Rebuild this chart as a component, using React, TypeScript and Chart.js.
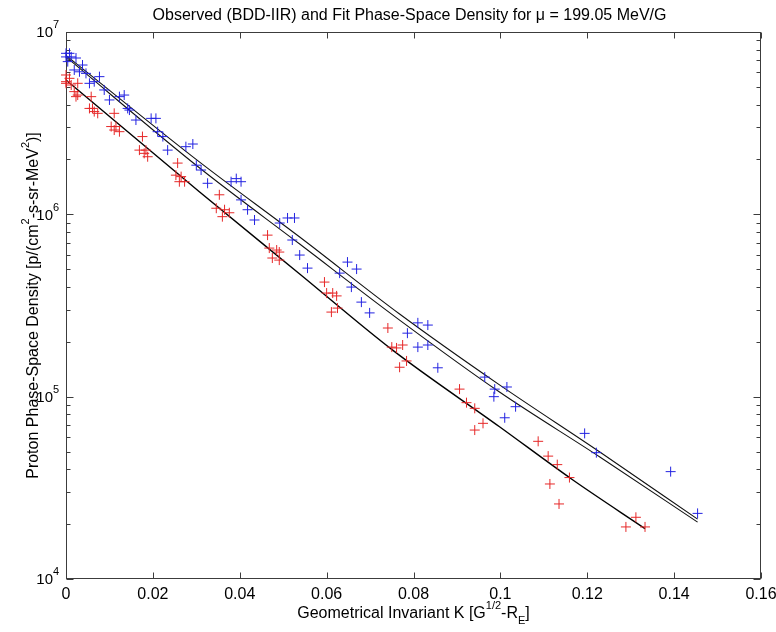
import React, { useEffect, useRef } from "react";
import { Chart, registerables } from "chart.js";

Chart.register(...registerables);

// ---------- data ----------
const xTickValues = [0, 0.02, 0.04, 0.06, 0.08, 0.1, 0.12, 0.14, 0.16];
const xTickLabels = ["0", "0.02", "0.04", "0.06", "0.08", "0.1", "0.12", "0.14", "0.16"];
const yDecadeExponents = [4, 5, 6, 7];

const blueK = [0, 0.0008, 0, 0.0012, 0.0023, 0.0004, 0.0019, 0.0038, 0.0031, 0.0046, 0.0077, 0.0065, 0.0054, 0.0088, 0.01, 0.0123, 0.0134, 0.0142, 0.0146, 0.0161, 0.0196, 0.0207, 0.0211, 0.0223, 0.0234, 0.0276, 0.0292, 0.03, 0.0311, 0.0326, 0.038, 0.0392, 0.0403, 0.0403, 0.0418, 0.0434, 0.0492, 0.051, 0.0526, 0.0521, 0.0538, 0.0556, 0.063, 0.0648, 0.0669, 0.0657, 0.068, 0.0699, 0.0786, 0.081, 0.0833, 0.081, 0.0833, 0.0856, 0.0964, 0.0987, 0.1015, 0.0985, 0.1035, 0.101, 0.1194, 0.1221, 0.1392, 0.1454];
const bluePSD = [7.64e6, 7.64e6, 7.3e6, 7.3e6, 7.2e6, 6.88e6, 6.19e6, 6.59e6, 6.05e6, 5.93e6, 5.69e6, 5.34e6, 5.23e6, 4.81e6, 4.24e6, 4.42e6, 4.51e6, 3.81e6, 3.73e6, 3.29e6, 3.36e6, 3.36e6, 2.84e6, 2.67e6, 2.25e6, 2.35e6, 2.43e6, 1.86e6, 1.75e6, 1.48e6, 1.51e6, 1.57e6, 1.51e6, 1.2e6, 1.06e6, 9.31e5, 8.96e5, 9.55e5, 9.55e5, 7.23e5, 5.98e5, 5.07e5, 4.76e5, 5.47e5, 5.01e5, 3.99e5, 3.3e5, 2.88e5, 2.23e5, 2.54e5, 2.47e5, 1.87e5, 1.92e5, 1.44e5, 1.28e5, 1.1e5, 1.13e5, 1.0e5, 8.81e4, 7.66e4, 6.29e4, 4.93e4, 3.88e4, 2.29e4];

const redK = [0, 0.0008, 0, 0, 0.0012, 0.0027, 0.0019, 0.0027, 0.0023, 0.0058, 0.0054, 0.0061, 0.0065, 0.0073, 0.0111, 0.0104, 0.0115, 0.0111, 0.0123, 0.0176, 0.0169, 0.0184, 0.018, 0.0188, 0.0257, 0.0253, 0.0265, 0.0261, 0.0273, 0.0353, 0.0346, 0.0365, 0.0376, 0.036, 0.0464, 0.0468, 0.0485, 0.0491, 0.0475, 0.0491, 0.0595, 0.06, 0.0614, 0.0623, 0.0625, 0.0611, 0.0741, 0.075, 0.0775, 0.0761, 0.0784, 0.0768, 0.0906, 0.0922, 0.0941, 0.096, 0.0941, 0.1087, 0.111, 0.1131, 0.1159, 0.1114, 0.1135, 0.1312, 0.1289, 0.1333];
const redPSD = [5.81e6, 5.57e6, 5.34e6, 5.23e6, 5.12e6, 5.23e6, 4.71e6, 4.51e6, 4.42e6, 4.42e6, 3.81e6, 3.81e6, 3.66e6, 3.58e6, 3.58e6, 3.03e6, 3.03e6, 2.9e6, 2.84e6, 2.67e6, 2.25e6, 2.25e6, 2.16e6, 2.07e6, 1.91e6, 1.64e6, 1.61e6, 1.51e6, 1.51e6, 1.28e6, 1.08e6, 1.06e6, 1.02e6, 9.71e5, 7.69e5, 6.53e5, 6.37e5, 6.21e5, 5.76e5, 5.61e5, 4.25e5, 3.7e5, 3.7e5, 3.57e5, 3.06e5, 2.91e5, 2.38e5, 1.87e5, 1.92e5, 1.85e5, 1.57e5, 1.45e5, 1.1e5, 9.27e4, 8.63e4, 7.14e4, 6.56e4, 5.69e4, 4.72e4, 4.24e4, 3.6e4, 3.32e4, 2.58e4, 2.18e4, 1.93e4, 1.93e4];

const blueFitK = [0, 0.0307, 0.0538, 0.0768, 0.0998, 0.1229, 0.1454];
const blueFitUpper = [7.45e6, 1.94e6, 7.51e5, 2.84e5, 1.16e5, 4.97e4, 2.13e4];
const blueFitLower = [7.3e6, 1.8e6, 6.87e5, 2.63e5, 1.06e5, 4.67e4, 2.05e4];
const redFitK = [0, 0.0307, 0.0538, 0.0752, 0.0998, 0.1167, 0.1333];
const redFit = [5.46e6, 1.33e6, 4.71e5, 1.8e5, 6.84e4, 3.49e4, 1.89e4];

const titleText = "Observed (BDD-IIR) and Fit Phase-Space Density for \u03bc = 199.05 MeV/G";

// ---------- helpers ----------
const FONT = '"Liberation Sans", Arial, Helvetica, sans-serif';
type Seg = [string, "n" | "sup" | "sub"];

function drawRich(ctx: CanvasRenderingContext2D, segs: Seg[], x: number, y: number, align: "left" | "center" | "right", size: number, supSize: number) {
  const fontFor = (k: string) => `${k === "n" ? size : supSize}px ${FONT}`;
  let total = 0;
  const widths = segs.map(([t, k]) => {
    ctx.font = fontFor(k);
    const w = ctx.measureText(t).width;
    total += w;
    return w;
  });
  let cx = align === "center" ? x - total / 2 : align === "right" ? x - total : x;
  ctx.textAlign = "left";
  ctx.textBaseline = "alphabetic";
  segs.forEach(([t, k], i) => {
    ctx.font = fontFor(k);
    const dy = k === "sup" ? -0.58 * size : k === "sub" ? 0.4 * size : 0;
    ctx.fillText(t, cx, y + dy);
    cx += widths[i];
  });
}

const matlabAxes = {
  id: "matlabAxes",
  beforeDatasetsDraw(chart: any) {
    const { ctx, chartArea: a, scales } = chart;
    const xs = scales.x;
    const ys = scales.y;
    ctx.save();
    ctx.strokeStyle = "#3c3c3c";
    ctx.lineWidth = 1;
    const L = Math.round(a.left) + 0.5;
    const R = Math.round(a.right) - 0.5;
    const T = Math.round(a.top) + 0.5;
    const B = Math.round(a.bottom) - 0.5;
    ctx.strokeRect(L, T, R - L, B - T);
    ctx.beginPath();
    xTickValues.forEach((v) => {
      const px = Math.round(xs.getPixelForValue(v)) + 0.5;
      ctx.moveTo(px, B);
      ctx.lineTo(px, B - 6);
      ctx.moveTo(px, T);
      ctx.lineTo(px, T + 6);
    });
    yDecadeExponents.forEach((e, i) => {
      const py = Math.round(ys.getPixelForValue(Math.pow(10, e))) + 0.5;
      ctx.moveTo(L, py);
      ctx.lineTo(L + 7, py);
      ctx.moveTo(R, py);
      ctx.lineTo(R - 7, py);
      if (i < yDecadeExponents.length - 1) {
        for (let m = 2; m <= 9; m++) {
          const pm = Math.round(ys.getPixelForValue(m * Math.pow(10, e))) + 0.5;
          ctx.moveTo(L, pm);
          ctx.lineTo(L + 4, pm);
          ctx.moveTo(R, pm);
          ctx.lineTo(R - 4, pm);
        }
      }
    });
    ctx.stroke();
    ctx.restore();
  },
  afterDraw(chart: any) {
    const { ctx, chartArea: a, scales } = chart;
    const xs = scales.x;
    const ys = scales.y;
    ctx.save();
    ctx.fillStyle = "#000";
    // x tick labels
    ctx.font = `16px ${FONT}`;
    ctx.textAlign = "center";
    ctx.textBaseline = "alphabetic";
    xTickValues.forEach((v, i) => {
      ctx.fillText(xTickLabels[i], xs.getPixelForValue(v), a.bottom + 20);
    });
    // y tick labels
    yDecadeExponents.forEach((e) => {
      const py = ys.getPixelForValue(Math.pow(10, e));
      ctx.font = `11px ${FONT}`;
      ctx.textAlign = "left";
      ctx.fillText(String(e), a.left - 13, py - 3.7);
      ctx.font = `15px ${FONT}`;
      ctx.textAlign = "right";
      ctx.fillText("10", a.left - 13, py + 5.3);
    });
    const cx = (a.left + a.right) / 2;
    // title
    ctx.font = `16px ${FONT}`;
    ctx.textAlign = "center";
    ctx.fillText(titleText, cx - 4, 20);
    // x axis label
    drawRich(ctx, [["Geometrical Invariant K [G", "n"], ["1/2", "sup"], ["-R", "n"], ["E", "sub"], ["]", "n"]], cx, a.bottom + 39, "center", 16, 11);
    // y axis label
    ctx.translate(38, (a.top + a.bottom) / 2);
    ctx.rotate(-Math.PI / 2);
    drawRich(ctx, [["Proton Phase-Space Density [p/(cm", "n"], ["2", "sup"], ["-s-sr-MeV", "n"], ["2", "sup"], [")]", "n"]], 0, 0, "center", 16, 11);
    ctx.restore();
  },
};

const BLUE = "rgb(35,35,225)";
const RED = "rgb(230,40,40)";

function toPoints(xs: number[], ys: number[]) {
  return xs.map((x, i) => ({ x, y: ys[i] }));
}

export default function App() {
  const ref = useRef<HTMLCanvasElement | null>(null);
  useEffect(() => {
    document.body.style.margin = "0";
    const canvas = ref.current;
    if (!canvas) return;
    const lineDs = (data: any, color: string, width: number) => ({
      data,
      showLine: true,
      borderColor: color,
      borderWidth: width,
      pointRadius: 0,
      cubicInterpolationMode: "monotone" as const,
      fill: false,
    });
    const chart = new Chart(canvas, {
      type: "scatter",
      data: {
        datasets: [
          {
            data: toPoints(blueK, bluePSD),
            showLine: false,
            pointStyle: "cross",
            pointRadius: 5,
            borderColor: BLUE,
            backgroundColor: BLUE,
            borderWidth: 1,
          },
          {
            data: toPoints(redK, redPSD),
            showLine: false,
            pointStyle: "cross",
            pointRadius: 5,
            borderColor: RED,
            backgroundColor: RED,
            borderWidth: 1,
          },
          lineDs(toPoints(blueFitK, blueFitUpper), "#111", 1.1),
          lineDs(toPoints(blueFitK, blueFitLower), "#111", 1.1),
          lineDs(toPoints(redFitK, redFit), "#000", 1.4),
        ] as any,
      },
      options: {
        responsive: false,
        animation: false,
        devicePixelRatio: 1,
        events: [],
        clip: false as any,
        layout: { padding: { left: 66, right: 15, top: 32, bottom: 53 } },
        plugins: {
          legend: { display: false },
          tooltip: { enabled: false },
          title: { display: false },
        },
        scales: {
          x: { type: "linear", min: 0, max: 0.16, display: false },
          y: { type: "logarithmic", min: 1e4, max: 1e7, display: false },
        },
      },
      plugins: [matlabAxes],
    });
    return () => chart.destroy();
  }, []);
  return (
    <div style={{ width: 776, height: 632, background: "#fff" }}>
      <canvas ref={ref} width={776} height={632} style={{ display: "block" }} />
    </div>
  );
}
